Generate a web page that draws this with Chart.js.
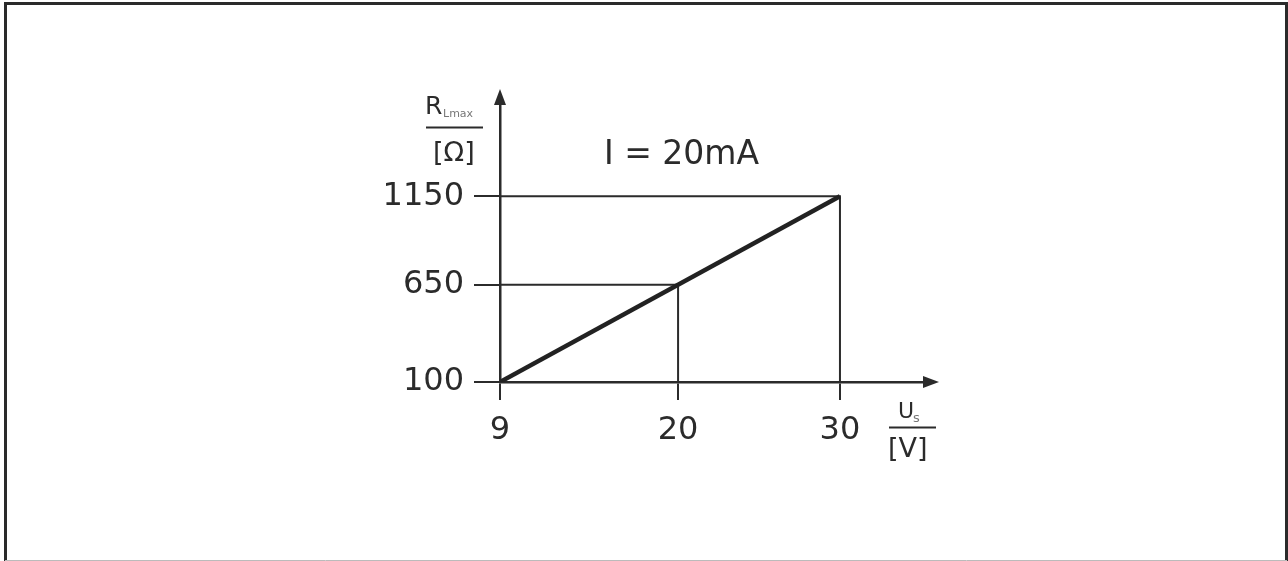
<!DOCTYPE html>
<html>
<head>
<meta charset="utf-8">
<script src="https://cdn.jsdelivr.net/npm/chart.js@4"></script>
<style>
  body { margin: 0; background: #fff; }
  canvas { display: block; }
</style>
</head>
<body>
<canvas id="chart" width="1288" height="561"></canvas>
<script>
// Kennlinie: max. Bürde über Versorgungsspannung bei 20mA
const voltage = [9, 20, 30]
const resistance = [100, 650, 1150]
const xTicks = [9, 20, 30]
const yTicks = [100, 650, 1150]

const ink = '#2b2b2b'
const fontFamily = "'DejaVu Sans', Verdana, sans-serif"

const canvas = document.querySelector('canvas#chart')

// Hilfslinien vom Achsenkreuz zu den Punkten
function guide(i){
    return [
        {x: voltage[0], y: resistance[i]},
        {x: voltage[i], y: resistance[i]},
        {x: voltage[i], y: resistance[0]}
    ]
}

const lineData = {
    datasets: [{
        data: [
            {x: voltage[0], y: resistance[0]},
            {x: voltage[voltage.length - 1], y: resistance[resistance.length - 1]}
        ],
        borderColor: '#222',
        borderWidth: 4.5,
        showLine: true,
        pointRadius: 0
    }, {
        data: guide(1),
        borderColor: ink,
        borderWidth: 2,
        showLine: true,
        pointRadius: 0
    }, {
        data: guide(2),
        borderColor: ink,
        borderWidth: 2,
        showLine: true,
        pointRadius: 0
    }]
}

// Rahmen, Pfeilspitzen und Achsentitel
const extras = {
    id: 'extras',
    beforeDraw(chart){
        const ctx = chart.ctx
        ctx.save()
        ctx.fillStyle = '#fff'
        ctx.fillRect(0, 0, chart.width, chart.height)
        ctx.restore()
    },
    afterDraw(chart){
        const ctx = chart.ctx
        const xs = chart.scales.x
        const ys = chart.scales.y
        const x0 = xs.getPixelForValue(voltage[0])
        const y0 = ys.getPixelForValue(resistance[0])
        const area = chart.chartArea

        ctx.save()
        // Rahmen
        ctx.strokeStyle = '#2a2a2a'
        ctx.lineWidth = 3
        ctx.beginPath()
        ctx.moveTo(5.5, 561)
        ctx.lineTo(5.5, 3.5)
        ctx.lineTo(1286.5, 3.5)
        ctx.lineTo(1286.5, 561)
        ctx.stroke()
        ctx.strokeStyle = '#bbb'
        ctx.lineWidth = 1
        ctx.beginPath()
        ctx.moveTo(5, 560.5)
        ctx.lineTo(1287, 560.5)
        ctx.stroke()

        // Pfeilspitzen
        ctx.fillStyle = ink
        ctx.beginPath()
        ctx.moveTo(x0, area.top - 10)
        ctx.lineTo(x0 - 6, area.top + 6)
        ctx.lineTo(x0 + 6, area.top + 6)
        ctx.closePath()
        ctx.fill()
        ctx.beginPath()
        ctx.moveTo(area.right + 10, y0)
        ctx.lineTo(area.right - 6, y0 - 6)
        ctx.lineTo(area.right - 6, y0 + 6)
        ctx.closePath()
        ctx.fill()

        // Titel y-Achse
        ctx.fillStyle = ink
        ctx.textBaseline = 'alphabetic'
        ctx.textAlign = 'left'
        ctx.font = '25px ' + fontFamily
        ctx.fillText('R', x0 - 75, 114)
        ctx.fillStyle = '#777'
        ctx.font = '11px ' + fontFamily
        ctx.fillText('Lmax', x0 - 57, 117)
        ctx.fillStyle = ink
        ctx.fillRect(x0 - 74, 126.5, 57, 2)
        ctx.font = '27px ' + fontFamily
        ctx.fillText('[Ω]', x0 - 67, 161)

        // Titel x-Achse
        ctx.font = '22px ' + fontFamily
        ctx.fillText('U', area.right - 31, 418)
        ctx.fillStyle = '#777'
        ctx.font = '13px ' + fontFamily
        ctx.fillText('s', area.right - 16, 422)
        ctx.fillStyle = ink
        ctx.fillRect(area.right - 40, 426.5, 47, 2)
        ctx.font = '27px ' + fontFamily
        ctx.fillText('[V]', area.right - 41, 457)

        // Stromangabe
        ctx.font = '33px ' + fontFamily
        ctx.fillText('I = 20mA', 604, 164)
        ctx.restore()
    }
}

const grafico = new Chart(canvas, {
    type: 'scatter',
    data: lineData,
    plugins: [extras],
    options: {
        responsive: false,
        animation: false,
        devicePixelRatio: 1,
        layout: {
            padding: {left: 360, right: 359, top: 99, bottom: 119}
        },
        plugins: {
            legend: {display: false},
            tooltip: {enabled: false}
        },
        scales: {
            x: {
                type: 'linear',
                min: 9,
                max: 35.5,
                afterBuildTicks: function(scale){
                    scale.ticks = xTicks.map(v => ({value: v}))
                },
                afterFit: function(scale){
                    scale.height = 60
                },
                border: {display: true, color: ink, width: 2.5},
                grid: {
                    drawOnChartArea: false,
                    drawTicks: true,
                    tickLength: 18,
                    color: ink,
                    lineWidth: 2
                },
                ticks: {
                    color: ink,
                    padding: 11,
                    maxRotation: 0,
                    autoSkip: false,
                    callback: v => String(v),
                    font: {family: fontFamily, size: 32}
                }
            },
            y: {
                type: 'linear',
                min: 100,
                max: 1700,
                afterBuildTicks: function(scale){
                    scale.ticks = yTicks.map(v => ({value: v}))
                },
                afterFit: function(scale){
                    scale.width = 140
                },
                border: {display: true, color: ink, width: 2.5},
                grid: {
                    drawOnChartArea: false,
                    drawTicks: true,
                    tickLength: 26,
                    color: ink,
                    lineWidth: 2
                },
                ticks: {
                    color: ink,
                    padding: 10,
                    autoSkip: false,
                    callback: v => String(v),
                    font: {family: fontFamily, size: 32}
                }
            }
        }
    }
})
</script>
</body>
</html>
